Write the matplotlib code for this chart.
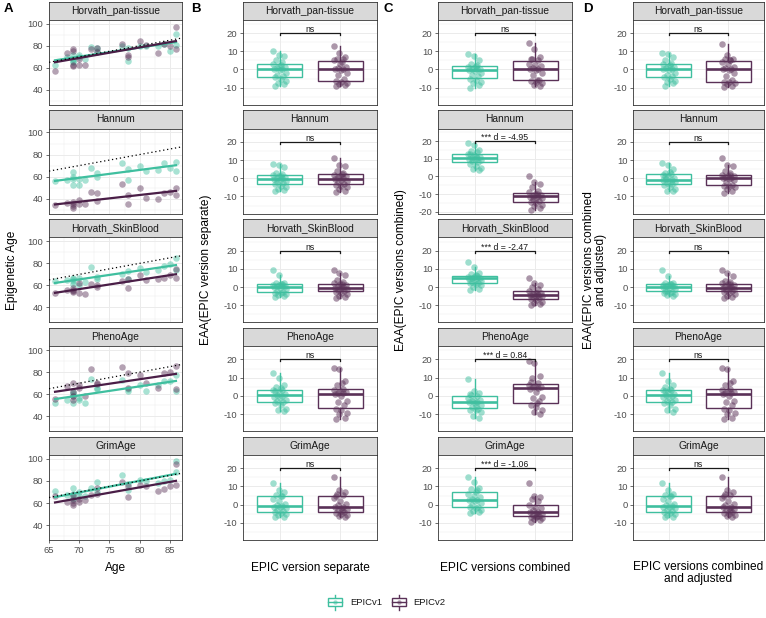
import numpy as np
import matplotlib
matplotlib.use("Agg")
import matplotlib.pyplot as plt
from matplotlib.patches import Rectangle

plt.rcParams['font.family'] = ['Liberation Sans', 'DejaVu Sans']

# ---------------- DATA ----------------
clocks = ["Horvath_pan-tissue", "Hannum", "Horvath_SkinBlood", "PhenoAge", "GrimAge"]
versions = ["EPICv1", "EPICv2"]

ages = [66, 68, 69, 69, 69, 69, 70, 70, 71, 72, 73, 73, 77, 78, 78, 80, 81, 83, 84, 85, 86, 86]

# Panel A: epigenetic age per sample
hpt_v1 = [63, 70, 72, 68, 66, 65, 72, 70, 68, 79, 75, 78, 80, 66, 78, 80, 80, 80, 82, 75, 91, 81]
hpt_v2 = [57, 73, 77, 75, 63, 62, 68, 63, 63, 77, 78, 74, 82, 70, 72, 84, 81, 73, 82, 80, 97, 77]
han_v1 = [56, 57, 64, 58, 52, 60, 52, 58, 57, 68, 63, 60, 72, 57, 67, 70, 65, 66, 72, 68, 73, 65]
han_v2 = [34, 36, 37, 35, 32, 33, 39, 35, 35, 46, 45, 38, 53, 35, 43, 50, 41, 40, 45, 46, 50, 43]
hsb_v1 = [64, 65, 67, 64, 61, 66, 60, 67, 63, 77, 66, 68, 70, 66, 73, 76, 72, 74, 78, 79, 85, 74]
hsb_v2 = [53, 56, 58, 56, 54, 55, 53, 62, 52, 61, 59, 60, 64, 58, 66, 69, 65, 66, 67, 69, 75, 67]
pheno_v1 = [52, 55, 62, 58, 52, 60, 55, 57, 52, 74, 66, 65, 73, 63, 65, 68, 63, 68, 72, 72, 77, 63]
pheno_v2 = [56, 67, 70, 62, 58, 55, 68, 66, 58, 83, 70, 69, 85, 79, 66, 77, 70, 66, 79, 80, 86, 65]
grim_v1 = [71, 67, 74, 68, 65, 64, 70, 66, 66, 74, 79, 70, 85, 77, 72, 81, 80, 78, 80, 81, 98, 88]
grim_v2 = [66, 61, 67, 60, 58, 63, 61, 64, 63, 67, 74, 68, 79, 65, 75, 76, 75, 71, 73, 75, 95, 76]

# Panel B: EAA, EPIC version separate
B_hpt_v1 = [10, 8, 7.5, 5, 4, 3, 2, 1.5, 1, 0.5, 0, -0.5, -2, -3, -3.5, -4, -5, -6.5, -7.5, -8, -9, 2.5]
B_hpt_v2 = [13, 9, 7, 6, 5.5, 5, 3, 1.5, 1, 0.5, 0, -0.5, -2, -3, -5, -6.5, -7, -7.5, -8, -8.5, -9, 4]
B_han_v1 = [8, 7.5, 6, 3, 2.5, 2, 1, 0.5, 0, 0, -0.5, -1, -1.5, -2, -2.5, -3, -4, -5, -6, -6.5, -7, 1.5]
B_han_v2 = [11, 7.5, 6.5, 4, 3, 2, 1.5, 1, 0.5, 0, -0.5, -1, -1.5, -2, -3, -3.5, -4, -5, -6, -7, -7.5, 2.5]
B_hsb_v1 = [9.5, 6.5, 2.5, 2, 1.5, 1.2, 1, 0.8, 0.5, 0.5, 0, -0.5, -1, -2, -2.5, -3, -3.5, -4, -4.5, -5, -5.5, 1.8]
B_hsb_v2 = [9.5, 8, 6.5, 4, 3, 2, 1.5, 1, 0.5, 0, -0.5, -0.5, -1, -1.5, -2, -2.5, -3, -4, -5, -5.5, -6, 1.5]
B_pheno_v1 = [12.5, 10, 6, 5, 3.5, 3, 2, 1, 0.5, 0, -0.5, -1, -2, -3, -3.5, -4, -5, -7, -8, -8.5, 2.5, 4.5]
B_pheno_v2 = [15.5, 14.5, 8, 6, 4, 3, 2.5, 2, 1.5, 1.5, 1, 0, -3, -3.5, -5, -7, -8, -9.5, -10, -12, -12.5, 7]
B_grim_v1 = [12, 8, 7, 5.5, 5, 3, 2, 0.5, 0, -0.5, -1, -1.5, -2, -3, -3.5, -4, -4.5, -5, -5.5, -6.5, -7, 5]
B_grim_v2 = [15, 8, 7, 6, 5.5, 3.5, 2, 0.5, 0, -1, -1.5, -2, -2.5, -3, -4, -4.5, -5, -5.5, -6, -6.5, 5, -3.5]

# Panel C: EAA, EPIC versions combined
C_hpt_v1 = [8.5, 7.5, 5, 3, 2.5, 1.5, 1, 0.5, 0, 0, -0.5, -1, -2, -3, -3.5, -5, -6, -7, -7.5, -8.5, -10, 2]
C_hpt_v2 = [14.5, 11, 7, 5.5, 5, 3, 2.5, 2, 1, 0.5, 0, -0.5, -2, -3, -5.5, -6.5, -7, -7.5, -8.5, -9, 6, -6]
C_han_v1 = [19, 18, 15, 14.5, 14, 13, 12, 11, 10.5, 10.5, 10, 10, 9.5, 9, 8, 7, 6, 5, 4, 3.5, 12.5, 11.5]
C_han_v2 = [0, -3, -4, -6, -8, -9, -10, -10.5, -11, -11, -11.5, -12, -12.5, -13, -14, -14.5, -15, -16, -17, -18, -19, -10]
C_hsb_v1 = [14, 11, 8, 7, 6, 5.5, 5.5, 5, 5, 5, 4.5, 4, 3.5, 3, 2.5, 2, 1.5, 1, 0, -1, -1.5, 6.5]
C_hsb_v2 = [5, 2, 1, 0, -1, -2, -3, -3.5, -4, -4.5, -4.5, -5, -5, -5.5, -6, -6.5, -7, -8, -9, -9.5, -10, -3]
C_pheno_v1 = [9.5, 2.5, 1.5, 0.5, 0, -1, -2, -2.5, -3, -3.5, -3.5, -4, -5, -6, -7, -7.5, -8, -9, -11, -12, 1, -5.5]
C_pheno_v2 = [19, 18, 11, 10, 7, 6, 5.5, 5, 5, 4.5, 4, 2, -0.5, -1, -3, -5, -6, -8, -9, -10, 7.5, -4]
C_grim_v1 = [15, 12.5, 9, 8.5, 8, 6, 5, 4, 3, 2.5, 2.5, 2, 1, 0, -1, -1.5, -2, -3, -3.5, -4, -4.5, 7]
C_grim_v2 = [12, 5, 4, 3, 2, 0, -1, -2, -3, -4, -4, -4.5, -5, -5.5, -6, -6.5, -7, -7.5, -8, -8.5, -9.5, -6]

# Panel D: EAA, EPIC versions combined and adjusted
D_hpt_v1 = [9, 8.5, 7, 5, 3.5, 3, 2, 1.5, 1, 0.5, 0, -0.5, -2, -3, -3.5, -4, -5, -6.5, -7, -7.5, -9, 2.5]
D_hpt_v2 = [14, 8, 6, 5.5, 5, 4, 3, 1.5, 1, 0.5, 0, -0.5, -2, -3.5, -6, -7, -7, -7.5, -8, -9, -9.5, 5]
D_han_v1 = [8.5, 7.5, 5, 3, 2.5, 2, 1, 0, -0.5, -1, -1, -1.5, -2, -2.5, -3, -3.5, -5, -6, -7, -7, 1.5, 3.5]
D_han_v2 = [11, 7.5, 6.5, 4, 3, 2, 1.5, 1, 0.5, 0, 0, -0.5, -1, -2, -3.5, -4, -4.5, -5, -6, -7, -8, 2]
D_hsb_v1 = [9.5, 6, 2.5, 2, 1.5, 1.2, 1, 0.8, 0.5, 0.5, 0, -0.5, -1, -2, -2.5, -3, -3.5, -4, -4.5, -5, -2, 1.8]
D_hsb_v2 = [9.5, 8, 6, 3.5, 3, 2, 1.5, 1, 0.5, 0, -0.5, -0.5, -1, -1.5, -2, -2.5, -3, -4, -5, -5.5, -6, 1.5]
D_pheno_v1 = [12.5, 8, 6, 5, 3.5, 3, 2, 1, 0.5, 0, -0.5, -1, -2, -3, -3.5, -4, -5, -7, -8, -9, 2.5, 4]
D_pheno_v2 = [15.5, 14.5, 8, 6, 4, 3, 2.5, 2, 1.5, 1.5, 1, 0, -3, -3.5, -5, -7, -8, -9.5, -10, -12, -12.5, 7]
D_grim_v1 = [12, 8, 6, 5.5, 5, 3, 2, 0.5, 0, -0.5, -1, -1.5, -2, -3, -3.5, -4, -4.5, -5, -5.5, -6.5, -7, 5]
D_grim_v2 = [15, 8, 7, 6, 5.5, 3.5, 2, 0.5, 0, -1, -1.5, -2, -2.5, -3, -4, -4.5, -5, -5.5, -6, -6.5, 5, -3.5]

A_series = [(hpt_v1, hpt_v2), (han_v1, han_v2), (hsb_v1, hsb_v2), (pheno_v1, pheno_v2), (grim_v1, grim_v2)]
B_series = [(B_hpt_v1, B_hpt_v2), (B_han_v1, B_han_v2), (B_hsb_v1, B_hsb_v2), (B_pheno_v1, B_pheno_v2), (B_grim_v1, B_grim_v2)]
C_series = [(C_hpt_v1, C_hpt_v2), (C_han_v1, C_han_v2), (C_hsb_v1, C_hsb_v2), (C_pheno_v1, C_pheno_v2), (C_grim_v1, C_grim_v2)]
D_series = [(D_hpt_v1, D_hpt_v2), (D_han_v1, D_han_v2), (D_hsb_v1, D_hsb_v2), (D_pheno_v1, D_pheno_v2), (D_grim_v1, D_grim_v2)]

C_labels = ["ns", "*** d = -4.95", "*** d = -2.47", "*** d = 0.84", "*** d = -1.06"]

# ---------------- STYLE ----------------
TEAL = "#3FBF9F"
PURPLE = "#5A3157"
PURPLE_LINE = "#4A1E47"
COLS = [TEAL, PURPLE]
GRID = "#EBEBEB"
BORDER = "#333333"
TICKLAB = "#4D4D4D"

W, H = 766, 618
fig = plt.figure(figsize=(W / 100, H / 100), dpi=100)


def ax_px(x0, y0, x1, y1):
    return fig.add_axes([x0 / W, 1 - y1 / H, (x1 - x0) / W, (y1 - y0) / H])


ROW_TOP = [1.5 + 108.8 * i for i in range(5)]
STRIP_H = 18.3
PANEL_H = 85.0
COLX = {"A": (49, 182), "B": (243, 377), "C": (438, 572), "D": (633, 764)}


def style_panel(ax):
    ax.set_facecolor("white")
    for s in ax.spines.values():
        s.set_color(BORDER)
        s.set_linewidth(0.6)
    ax.grid(True, which="major", color=GRID, linewidth=0.7, zorder=0)
    ax.grid(True, which="minor", color=GRID, linewidth=0.35, zorder=0)
    ax.set_axisbelow(True)
    ax.tick_params(axis="both", which="major", length=2.5, width=0.5, color=BORDER,
                   labelcolor=TICKLAB, labelsize=6.8, pad=1.5)
    ax.tick_params(axis="both", which="minor", length=0)


def make_strip(x0, x1, top, label):
    s = ax_px(x0, top, x1, top + STRIP_H)
    s.set_facecolor("#D9D9D9")
    s.set_xticks([])
    s.set_yticks([])
    for sp in s.spines.values():
        sp.set_color(BORDER)
        sp.set_linewidth(0.6)
    s.text(0.5, 0.5, label, ha="center", va="center", fontsize=7.4, color="#1A1A1A",
           transform=s.transAxes)


def jitter(n):
    return ((np.arange(n) * 9 % n) / (n - 1) - 0.5) * 0.22


# ---------------- PANEL A ----------------
x0, x1 = COLX["A"]
ages_arr = np.array(ages, dtype=float)
for i, clock in enumerate(clocks):
    top = ROW_TOP[i]
    make_strip(x0, x1, top, clock)
    ax = ax_px(x0, top + STRIP_H, x1, top + STRIP_H + PANEL_H)
    style_panel(ax)
    xs = np.array([65, 87])
    ax.plot(xs, xs, linestyle=(0, (1, 2.2)), color="black", linewidth=0.9, zorder=4)
    for j, vals in enumerate(A_series[i]):
        v = np.array(vals, dtype=float)
        ax.scatter(ages_arr, v, s=22, color=COLS[j], alpha=0.45, linewidths=0, zorder=2)
        k, b = np.polyfit(ages_arr, v, 1)
        xr = np.array([ages_arr.min(), ages_arr.max()])
        ax.plot(xr, k * xr + b, color=[TEAL, PURPLE_LINE][j], linewidth=1.6, zorder=3)
    ax.set_xlim(65, 87)
    ax.set_ylim(26.5, 103.5)
    ax.set_yticks([40, 60, 80, 100])
    ax.set_yticks([30, 50, 70, 90], minor=True)
    ax.set_xticks([65, 70, 75, 80, 85])
    ax.set_xticks([67.5, 72.5, 77.5, 82.5], minor=True)
    if i < 4:
        ax.tick_params(axis="x", which="major", length=0, labelbottom=False)

# ---------------- BOX PANELS ----------------
def box_column(key, series, ylims, labels):
    x0, x1 = COLX[key]
    for i, clock in enumerate(clocks):
        ylim = ylims[i]
        top = ROW_TOP[i]
        make_strip(x0, x1, top, clock)
        ax = ax_px(x0, top + STRIP_H, x1, top + STRIP_H + PANEL_H)
        style_panel(ax)
        v1, v2 = series[i]
        bp = ax.boxplot([v1, v2], positions=[1, 2], widths=0.75, showfliers=False,
                        showcaps=False, whis=1.5, patch_artist=True)
        for j, col in enumerate(COLS):
            bp["boxes"][j].set(facecolor="white", edgecolor=col, linewidth=1.0, zorder=2)
            bp["medians"][j].set(color=col, linewidth=1.9, zorder=3)
            for w in bp["whiskers"][2 * j:2 * j + 2]:
                w.set(color=col, linewidth=1.0, zorder=2)
        for j, vals in enumerate([v1, v2]):
            v = np.array(vals, dtype=float)
            ax.scatter(j + 1 + jitter(len(v)), v, s=22, color=COLS[j], alpha=0.5,
                       linewidths=0, zorder=4)
        ax.plot([1, 1, 2, 2], [18.9, 20, 20, 18.9], color="#1A1A1A", linewidth=0.9, zorder=5)
        ax.text(1.5, 19.5, labels[i], ha="center", va="bottom", fontsize=6.3,
                color="#1A1A1A", zorder=6)
        ax.set_xlim(0.4, 2.6)
        ax.set_ylim(*ylim)
        ax.set_xticks([1, 2])
        ax.set_xticklabels(["", ""])
        ax.tick_params(axis="x", which="major", length=0, labelbottom=False)
        yt = [t for t in [-20, -10, 0, 10, 20] if ylim[0] <= t <= ylim[1]]
        ax.set_yticks(yt)
        ax.set_yticklabels([str(t) for t in yt])
        ax.set_yticks([-15, -5, 5, 15, 25], minor=True)
        ax.set_ylim(*ylim)


STD = (-19.4, 27.3)
box_column("B", B_series, [STD] * 5, ["ns"] * 5)
box_column("C", C_series, [STD, (-21.1, 27.2), STD, STD, STD], C_labels)
box_column("D", D_series, [STD] * 5, ["ns"] * 5)

# ---------------- TITLES ----------------
tfs = 8.6
fig.text(12 / W, 1 - 270 / H, "Epigenetic Age", rotation=90, ha="center", va="center", fontsize=tfs)
fig.text(206 / W, 1 - 270 / H, "EAA(EPIC version separate)", rotation=90, ha="center", va="center", fontsize=tfs)
fig.text(401 / W, 1 - 270 / H, "EAA(EPIC versions combined)", rotation=90, ha="center", va="center", fontsize=tfs)
fig.text(595 / W, 1 - 270 / H, "EAA(EPIC versions combined\nand adjusted)", rotation=90, ha="center",
         va="center", fontsize=tfs, multialignment="center", linespacing=1.0)

fig.text(115.5 / W, 1 - 568 / H, "Age", ha="center", va="center", fontsize=tfs)
fig.text(310 / W, 1 - 568 / H, "EPIC version separate", ha="center", va="center", fontsize=tfs)
fig.text(505 / W, 1 - 568 / H, "EPIC versions combined", ha="center", va="center", fontsize=tfs)
fig.text(698.5 / W, 1 - 561 / H, "EPIC versions combined\nand adjusted", ha="center", va="top",
         fontsize=tfs, multialignment="center", linespacing=1.05)

for lab, xp in [("A", 4), ("B", 191), ("C", 384), ("D", 583)]:
    fig.text(xp / W, 1 - 3 / H, lab, ha="left", va="top", fontsize=9.5, fontweight="bold")

# ---------------- LEGEND ----------------
lg = ax_px(320, 590, 460, 615)
lg.set_xlim(320, 460)
lg.set_ylim(615, 590)
lg.axis("off")
for cx, col, lab in [(335, TEAL, "EPICv1"), (398.5, PURPLE, "EPICv2")]:
    lg.plot([cx, cx], [595.5, 610], color=col, linewidth=1.0)
    lg.add_patch(Rectangle((cx - 7, 598.5), 14, 7.5, facecolor="white", edgecolor=col, linewidth=1.0, zorder=2))
    lg.plot([cx - 7, cx + 7], [602.3, 602.3], color=col, linewidth=1.0, zorder=3)
    lg.scatter([cx], [602.3], s=10, color=col, alpha=0.5, linewidths=0, zorder=4)
    lg.text(cx + 15, 602.5, lab, ha="left", va="center", fontsize=6.8, color="#1A1A1A")

fig.savefig("out.png", dpi=100)
